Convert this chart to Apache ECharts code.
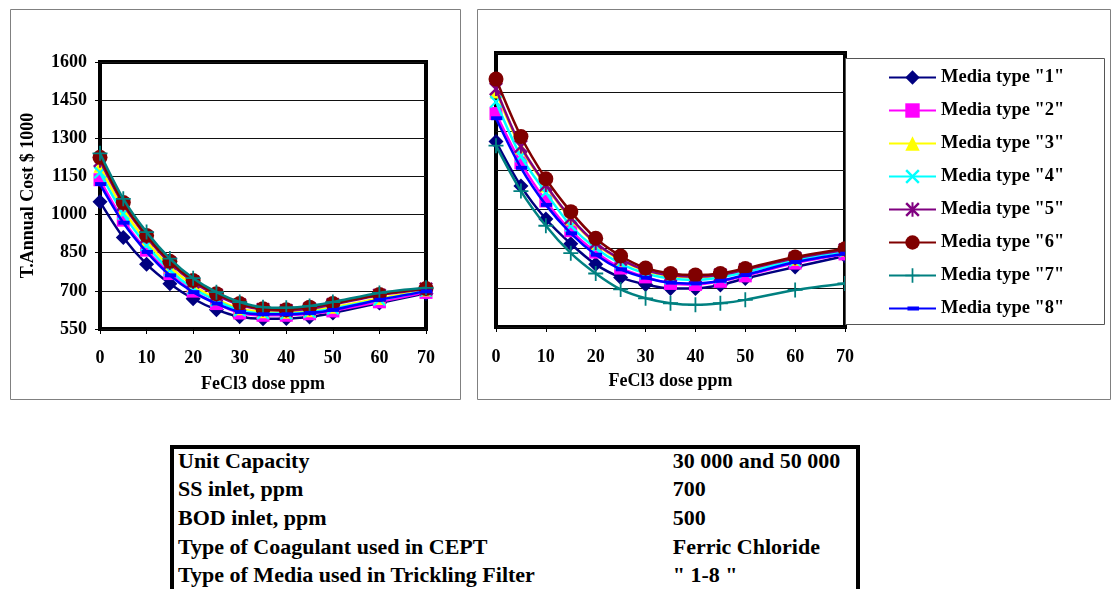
<!DOCTYPE html>
<html>
<head>
<meta charset="utf-8">
<script src="https://cdn.jsdelivr.net/npm/echarts@6/dist/echarts.min.js"></script>
<style>
  html, body { margin: 0; padding: 0; background: #fff; overflow: hidden; }
  #chart { position: absolute; left: 0; top: 0; width: 1113px; height: 589px; }
  #tbl { position: absolute; left: 170px; top: 445px; width: 682px; height: 200px;
         border: 4px solid #000; background: #fff; z-index: 2;
         font-family: "Liberation Serif", "Times New Roman", serif; font-weight: bold; font-size: 22px; color: #000; }
  .row { position: absolute; left: 4px; height: 28.7px; line-height: 28.7px; white-space: nowrap; }
  .val { position: absolute; left: 498.7px; height: 28.7px; line-height: 28.7px; white-space: nowrap; }
</style>
</head>
<body>
<div id="chart"></div>
<div id="tbl"></div>
<script>
// ---- data ----
const doses = [0, 5, 10, 15, 20, 25, 30, 35, 40, 45, 50, 60, 70];
const seriesNames = ['Media type "1"', 'Media type "2"', 'Media type "3"', 'Media type "4"',
                     'Media type "5"', 'Media type "6"', 'Media type "7"', 'Media type "8"'];
// Left chart (T.Annual Cost $1000)
const left1 = [1050, 910, 805, 728, 669, 626, 598, 590, 591, 597, 613, 652, 690];
const left2 = [1137, 978, 860, 768, 699, 650, 613, 604, 604, 610, 621, 657, 694];
const left3 = [1190, 1020, 895, 795, 722, 668, 630, 618, 616, 622, 636, 670, 703];
const left4 = [1165, 1003, 879, 781, 709, 662, 623, 612, 611, 617, 630, 665, 700];
const left5 = [1212, 1040, 912, 810, 735, 683, 645, 627, 623, 630, 646, 683, 707];
const left6 = [1225, 1047, 918, 816, 741, 689, 650, 630, 626, 636, 650, 686, 709];
const left7 = [1241, 1062, 931, 827, 750, 695, 656, 636, 634, 640, 656, 692, 712];
const left8 = [1120, 968, 853, 761, 695, 650, 617, 608, 608, 613, 625, 665, 698];
// Right chart
const right1 = [1261, 1090, 964, 869, 790, 740, 713, 698, 698, 711, 736, 780, 822];
const right2 = [1368, 1179, 1033, 919, 837, 776, 742, 717, 713, 725, 746, 795, 830];
const right3 = [1451, 1236, 1090, 964, 869, 806, 765, 745, 740, 747, 768, 810, 845];
const right4 = [1413, 1204, 1065, 938, 852, 793, 755, 736, 731, 740, 760, 805, 840];
const right5 = [1462, 1242, 1094, 968, 872, 810, 768, 748, 743, 750, 770, 813, 846];
const right6 = [1500, 1280, 1118, 992, 890, 822, 776, 755, 749, 755, 774, 818, 850];
const right7 = [1245, 1071, 938, 833, 755, 694, 660, 641, 635, 641, 654, 692, 717];
const right8 = [1350, 1160, 1018, 909, 827, 771, 739, 720, 717, 727, 749, 799, 831];
// axis settings
const yMin = 550, yMax = 1600, yStep = 150;
const xMin = 0, xMax = 70, xStep = 10;
const yAxisTitle = 'T.Annual Cost $ 1000';
const xAxisTitle = 'FeCl3 dose ppm';
// table
const tableLabels = ['Unit Capacity', 'SS inlet, ppm', 'BOD inlet, ppm',
                     'Type of Coagulant used in CEPT', 'Type of Media used in Trickling Filter'];
const tableValues = ['30 000 and 50 000', '700', '500', 'Ferric Chloride', '" 1-8 "'];

// ---- styles ----
const colors = ['#000080', '#FF00FF', '#FFFF00', '#00FFFF', '#800080', '#800000', '#008080', '#0000FF'];
const xPath = 'path://M0,1.2 L1.2,0 L5,3.8 L8.8,0 L10,1.2 L6.2,5 L10,8.8 L8.8,10 L5,6.2 L1.2,10 L0,8.8 L3.8,5 Z';
const starPath = 'path://M0,1.2 L1.2,0 L5,3.8 L8.8,0 L10,1.2 L6.2,5 L10,8.8 L8.8,10 L5,6.2 L1.2,10 L0,8.8 L3.8,5 Z M4.3,0 L5.7,0 L5.7,10 L4.3,10 Z';
const plusPath = 'path://M4.4,0 L5.6,0 L5.6,4.4 L10,4.4 L10,5.6 L5.6,5.6 L5.6,10 L4.4,10 L4.4,5.6 L0,5.6 L0,4.4 L4.4,4.4 Z';
const dashPath = 'path://M0,0 M10,10 M1.5,3.6 L9.5,3.6 L9.5,6.4 L1.5,6.4 Z';
const symbols = ['diamond', 'rect', 'triangle', xPath, starPath, 'circle', plusPath, dashPath];
const symbolSizes = [15, 13, 13, 13, 14, 15, 15, 14];
const FONT = '"Liberation Serif", "Times New Roman", serif';

const leftData = [left1, left2, left3, left4, left5, left6, left7, left8];
const rightData = [right1, right2, right3, right4, right5, right6, right7, right8];

function pairs(arr) { return doses.map((d, i) => [d, arr[i]]); }

function mkSeries(dataSets, idx) {
  return dataSets.map((arr, k) => ({
    name: seriesNames[k],
    type: 'line',
    xAxisIndex: idx, yAxisIndex: idx,
    data: pairs(arr),
    smooth: 0.3,
    symbol: symbols[k],
    symbolSize: symbolSizes[k],
    showAllSymbol: true,
    clip: false,
    lineStyle: { color: colors[k], width: 2.5 },
    itemStyle: { color: colors[k] },
    emphasis: { disabled: true },
    z: 3 + k
  }));
}

function mkX(idx, labelMargin, nameGap) {
  return {
    type: 'value', gridIndex: idx, min: xMin, max: xMax, interval: xStep,
    name: xAxisTitle, nameLocation: 'middle', nameGap: nameGap,
    nameTextStyle: { fontFamily: FONT, fontWeight: 'bold', fontSize: 18, color: '#000', verticalAlign: 'top' },
    axisLine: { show: false },
    axisTick: { show: true, length: 5, lineStyle: { color: '#000', width: 1 } },
    axisLabel: { margin: labelMargin, fontFamily: FONT, fontWeight: 'bold', fontSize: 18, color: '#000',
                 formatter: v => String(v) },
    splitLine: { show: false }
  };
}
function mkY(idx, showLabels) {
  const ax = {
    type: 'value', gridIndex: idx, min: yMin, max: yMax, interval: yStep,
    axisLine: { show: false },
    axisTick: { show: showLabels, length: 5, lineStyle: { color: '#000', width: 1 } },
    axisLabel: { show: showLabels, margin: 13, fontFamily: FONT, fontWeight: 'bold', fontSize: 18, color: '#000',
                 formatter: v => String(v) },
    splitLine: { show: true, lineStyle: { color: '#111', width: 1 } }
  };
  if (showLabels) {
    ax.name = yAxisTitle;
    ax.nameLocation = 'middle';
    ax.nameGap = 63;
    ax.nameTextStyle = { fontFamily: FONT, fontWeight: 'bold', fontSize: 18, color: '#000' };
  }
  return ax;
}

const chart = echarts.init(document.getElementById('chart'), null, { renderer: 'canvas' });
chart.setOption({
  backgroundColor: '#fff',
  animation: false,
  grid: [
    { left: 100, right: 687, top: 62, bottom: 260, show: true, borderWidth: 4, borderColor: '#000', backgroundColor: 'transparent' },
    { left: 496, right: 268, top: 53, bottom: 262, show: true, borderWidth: 4, borderColor: '#000', backgroundColor: 'transparent' }
  ],
  xAxis: [mkX(0, 20, 46), mkX(1, 21, 45)],
  yAxis: [mkY(0, true), mkY(1, false)],
  legend: {
    data: seriesNames,
    orient: 'vertical',
    left: 888, top: 68,
    padding: 0,
    z: 100,
    itemWidth: 47, itemHeight: 18, itemGap: 14,
    selectedMode: false,
    textStyle: { fontFamily: FONT, fontWeight: 'bold', fontSize: 18.5, color: '#000', lineHeight: 18 }
  },
  graphic: [
    { type: 'rect', shape: { x: 10.5, y: 9.5, width: 450, height: 390 }, style: { fill: 'none', stroke: '#808080', lineWidth: 1 }, z: -1, silent: true },
    { type: 'rect', shape: { x: 477.5, y: 9.5, width: 633, height: 390 }, style: { fill: 'none', stroke: '#808080', lineWidth: 1 }, z: -1, silent: true },
    { type: 'rect', shape: { x: 845.5, y: 58.5, width: 259, height: 266 }, style: { fill: '#fff', stroke: '#555', lineWidth: 1 }, z: 50, silent: true }
  ],
  series: mkSeries(leftData, 0).concat(mkSeries(rightData, 1))
});

// ---- table ----
const tbl = document.getElementById('tbl');
tableLabels.forEach((t, i) => {
  const a = document.createElement('div');
  a.className = 'row'; a.style.top = (-2.5 + i * 28.7) + 'px'; a.textContent = t;
  tbl.appendChild(a);
  const b = document.createElement('div');
  b.className = 'val'; b.style.top = (-2.5 + i * 28.7) + 'px'; b.textContent = tableValues[i];
  tbl.appendChild(b);
});
</script>
</body>
</html>
